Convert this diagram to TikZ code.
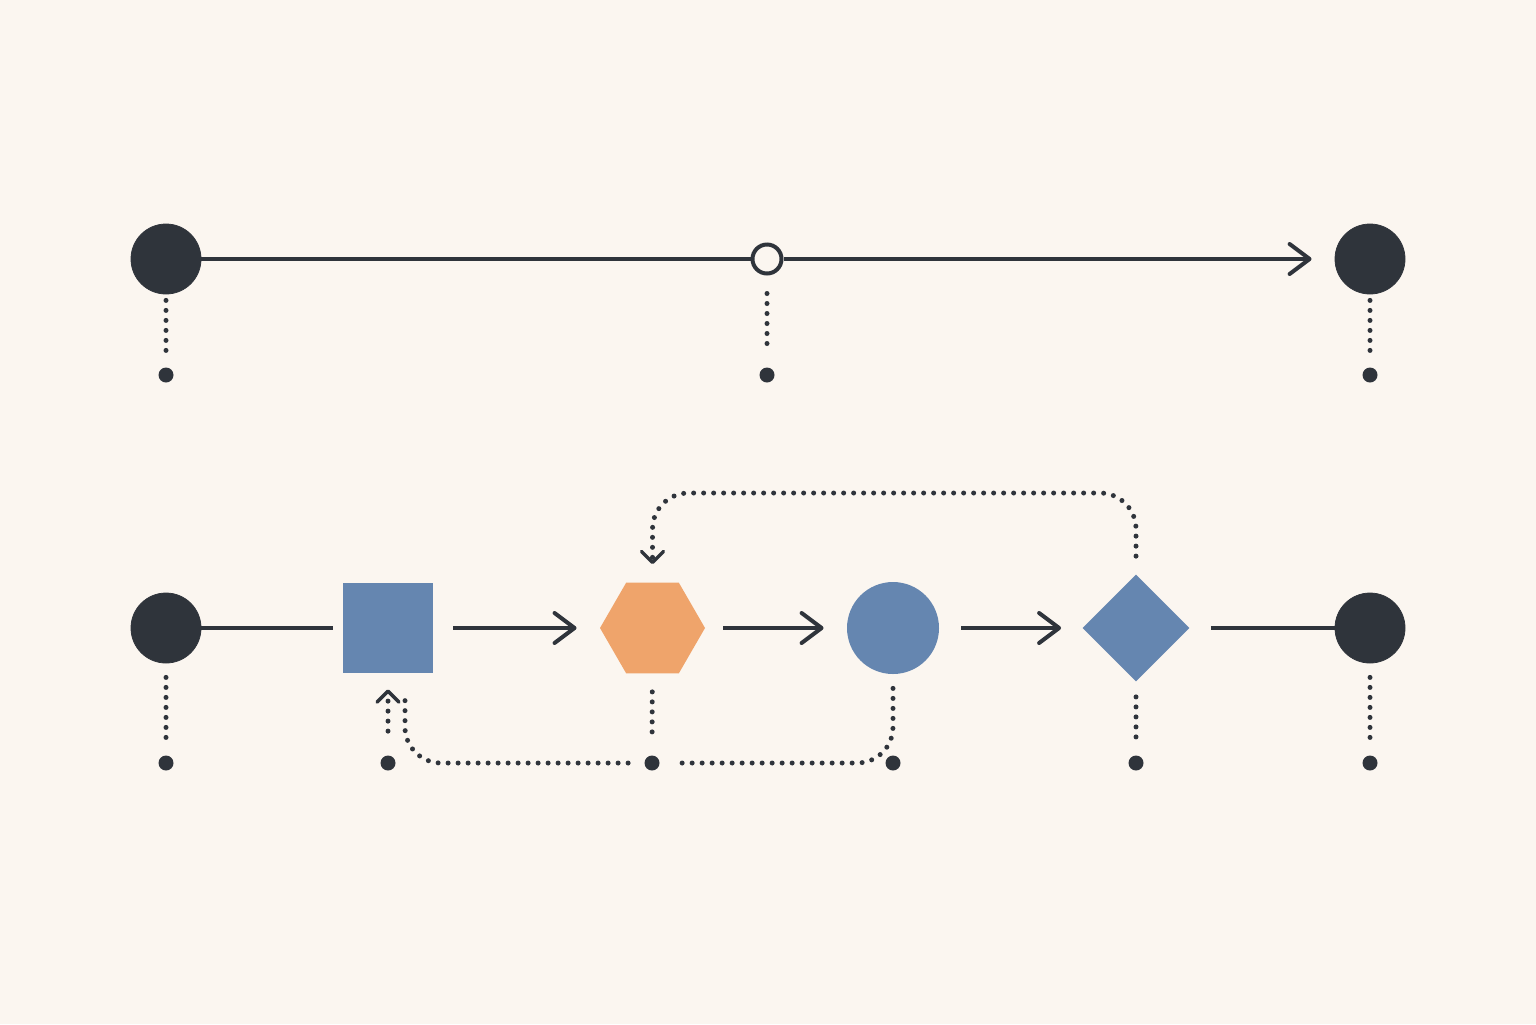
\documentclass[tikz,border=0pt]{standalone}
\usetikzlibrary{arrows.meta,shapes.geometric}
\definecolor{bg}{HTML}{FBF6F0}
\definecolor{ink}{HTML}{2F343B}
\definecolor{blueish}{HTML}{6586B0}
\definecolor{orangeish}{HTML}{EFA46B}
\begin{document}
\begin{tikzpicture}[x=0.5pt,y=-0.5pt,
  bigdot/.style={circle,fill=ink,draw=ink,minimum size=35pt,inner sep=0pt},
  smalldot/.style={circle,fill=ink,minimum size=7.5pt,inner sep=0pt},
  opendot/.style={circle,draw=ink,line width=2pt,fill=bg,minimum size=14.5pt,inner sep=0pt},
  sqbox/.style={rectangle,fill=blueish,minimum size=45pt,inner sep=0pt},
  hexbox/.style={regular polygon,regular polygon sides=6,fill=orangeish,minimum size=52.5pt,inner sep=0pt},
  circbox/.style={circle,fill=blueish,minimum size=46pt,inner sep=0pt},
  diabox/.style={diamond,aspect=1,fill=blueish,minimum width=53.5pt,minimum height=53.5pt,inner sep=0pt},
  solidline/.style={draw=ink,line width=2pt},
  arrowline/.style={solidline,-{Straight Barb[length=10pt,width=15pt,round,line width=2pt]}},
  dotline/.style={draw=ink,line width=2.5pt,line cap=round,dash pattern=on 0pt off 5pt},
  dotarrow/.style={dotline,-{Straight Barb[length=5.5pt,width=11pt,round,line width=1.7pt]}}
]
\fill[bg] (0,0) rectangle (1536,1024);
\useasboundingbox (0,0) rectangle (1536,1024);

% top row
\node[bigdot] (t1) at (166,259) {};
\node[opendot] (t2) at (767,259) {};
\node[bigdot] (t3) at (1370,259) {};
\node[smalldot] (td1) at (166,375) {};
\node[smalldot] (td2) at (767,375) {};
\node[smalldot] (td3) at (1370,375) {};

\draw[solidline] (t1) -- (t2);
\draw[arrowline, shorten >=11.5pt] (t2) -- (t3);
\draw[dotline, shorten <=3pt, shorten >=7pt] (t1) -- (td1);
\draw[dotline, shorten <=9pt, shorten >=7pt] (t2) -- (td2);
\draw[dotline, shorten <=3pt, shorten >=7pt] (t3) -- (td3);

% bottom row
\node[bigdot] (b1) at (166,628) {};
\node[sqbox] (sq) at (388,628) {};
\node[hexbox] (hx) at (652.5,628) {};
\node[circbox] (ci) at (893,628) {};
\node[diabox] (di) at (1136,628) {};
\node[bigdot] (b2) at (1370,628) {};

\node[smalldot] (bd1) at (166,763) {};
\node[smalldot] (bd2) at (388,763) {};
\node[smalldot] (bd3) at (652,763) {};
\node[smalldot] (bd4) at (893,763) {};
\node[smalldot] (bd5) at (1136,763) {};
\node[smalldot] (bd6) at (1370,763) {};

\draw[solidline, shorten >=5pt] (b1) -- (sq);
\draw[arrowline, shorten <=10pt, shorten >=11.5pt] (sq) -- (hx);
\draw[arrowline, shorten <=9pt, shorten >=11.5pt] (hx) -- (ci);
\draw[arrowline, shorten <=11pt, shorten >=10.5pt] (ci) -- (di);
\draw[solidline, shorten <=10.5pt] (di) -- (b2);

\draw[dotline, shorten <=7pt, shorten >=8pt] (b1) -- (bd1);
\draw[dotarrow, shorten <=12pt, shorten >=8pt] (bd2) -- (sq);
\draw[dotline, shorten <=9pt, shorten >=8pt] (hx) -- (bd3);
\draw[dotline, shorten <=7.5pt, shorten >=8pt] (di) -- (bd5);
\draw[dotline, shorten <=7pt, shorten >=8pt] (b2) -- (bd6);

% bottom feedback loop
\coordinate (sqin) at (405,697);
\draw[dotline, rounded corners=18pt] ([yshift=-7pt]ci.south) |- ([xshift=8pt]bd3.east);
\draw[dotline, rounded corners=18pt] ([xshift=-8pt]bd3.west) -| (sqin);

% top feedback loop
\coordinate (tl) at (900,493);
\draw[dotarrow, rounded corners=18pt] ([yshift=9pt]di.north) |- (tl) -| ([yshift=9pt]hx.north);
\end{tikzpicture}
\end{document}
